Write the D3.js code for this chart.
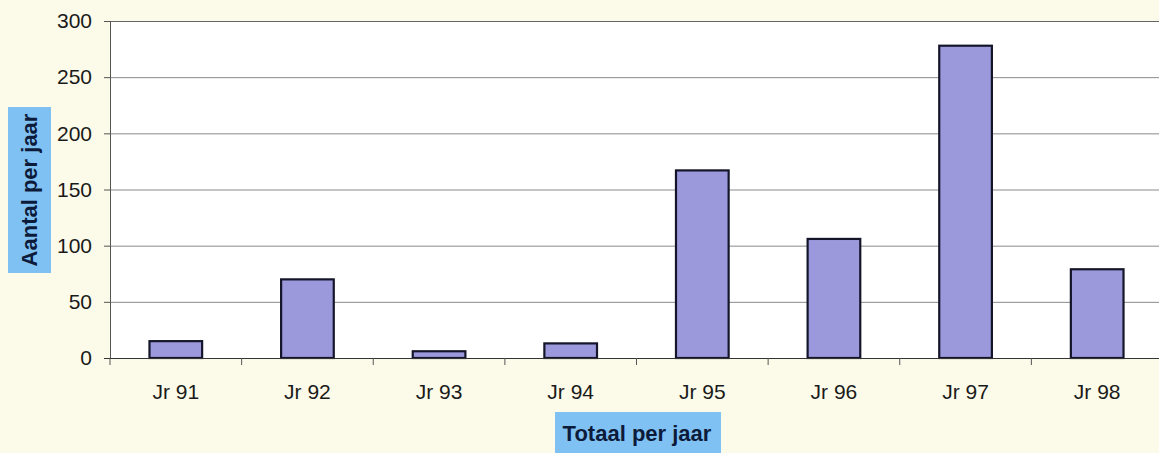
<!DOCTYPE html>
<html><head><meta charset="utf-8">
<script src="https://cdn.jsdelivr.net/npm/d3@7"></script>
<style>html,body{margin:0;padding:0;background:#fcfbe9;}svg{display:block;}</style>
</head><body>
<svg id="c" width="1159" height="453"></svg>
<script>
const categories = ["Jr 91","Jr 92","Jr 93","Jr 94","Jr 95","Jr 96","Jr 97","Jr 98"];
const values = [15, 70, 6, 13, 167, 106, 278, 79];
const yTicks = [0, 50, 100, 150, 200, 250, 300];
const yTitle = "Aantal per jaar";
const xTitle = "Totaal per jaar";

const svg = d3.select("#c");
const L = 110, R = 1163, T = 21, B = 358;
const font = "Arial, 'Liberation Sans', sans-serif";

const x = d3.scaleBand().domain(categories).range([L, R]).paddingInner(0.6).paddingOuter(0.3);
const y = d3.scaleLinear().domain([0, 300]).range([B, T]);

svg.append("rect").attr("x", L).attr("y", T).attr("width", R - L).attr("height", B - T).attr("fill", "#ffffff");

// grid
svg.append("g").selectAll("line").data(yTicks.filter(d => d > 0)).join("line")
  .attr("x1", L).attr("x2", R).attr("y1", d => y(d) + 0.5).attr("y2", d => y(d) + 0.5)
  .attr("stroke", d => d === 300 ? "#666" : "#8a8a8a").attr("stroke-width", 1);

// bars
svg.append("g").selectAll("rect").data(categories).join("rect")
  .attr("x", d => x(d)).attr("width", x.bandwidth())
  .attr("y", (d, i) => y(values[i])).attr("height", (d, i) => y(0) - y(values[i]))
  .attr("fill", "#9b99dc").attr("stroke", "#15152a").attr("stroke-width", 2.2);

// y axis
const ya = svg.append("g").attr("transform", `translate(${L},0)`)
  .call(d3.axisLeft(y).tickValues(yTicks).tickSize(6).tickPadding(12));
ya.select(".domain").attr("stroke", "#555").attr("d", `M0.5,${T}V${B}`);
ya.selectAll(".tick line").attr("stroke", "#555");
ya.selectAll(".tick text").attr("font-family", font).attr("font-size", 21).attr("fill", "#1a1a1a");

// x axis
const xa = svg.append("g").attr("transform", `translate(0,${B})`)
  .call(d3.axisBottom(x).tickSize(0).tickPadding(26));
xa.select(".domain").attr("stroke", "#333").attr("d", `M${L - 6},0.5H${R}`);
xa.selectAll(".tick text").attr("font-family", font).attr("font-size", 21).attr("fill", "#1a1a1a");
// category separator ticks
const step = x.step();
svg.append("g").selectAll("line").data(categories.map((c, i) => i)).join("line")
  .attr("x1", i => L + i * step).attr("x2", i => L + i * step)
  .attr("y1", B).attr("y2", B + 7).attr("stroke", "#555");

// y title box
const yb = svg.append("g");
yb.append("rect").attr("x", 8).attr("y", 107).attr("width", 43).attr("height", 166).attr("fill", "#80c1f4");
yb.append("text").attr("transform", "translate(37,190) rotate(-90)").attr("text-anchor", "middle")
  .attr("font-family", font).attr("font-weight", "bold").attr("font-size", 22).attr("fill", "#0d1b3a").text(yTitle);

// x title box
const xb = svg.append("g");
xb.append("rect").attr("x", 555).attr("y", 412).attr("width", 166).attr("height", 41).attr("fill", "#80c1f4");
xb.append("text").attr("x", 637).attr("y", 441).attr("text-anchor", "middle")
  .attr("font-family", font).attr("font-weight", "bold").attr("font-size", 22).attr("fill", "#0d1b3a").text(xTitle);
</script>
</body></html>
